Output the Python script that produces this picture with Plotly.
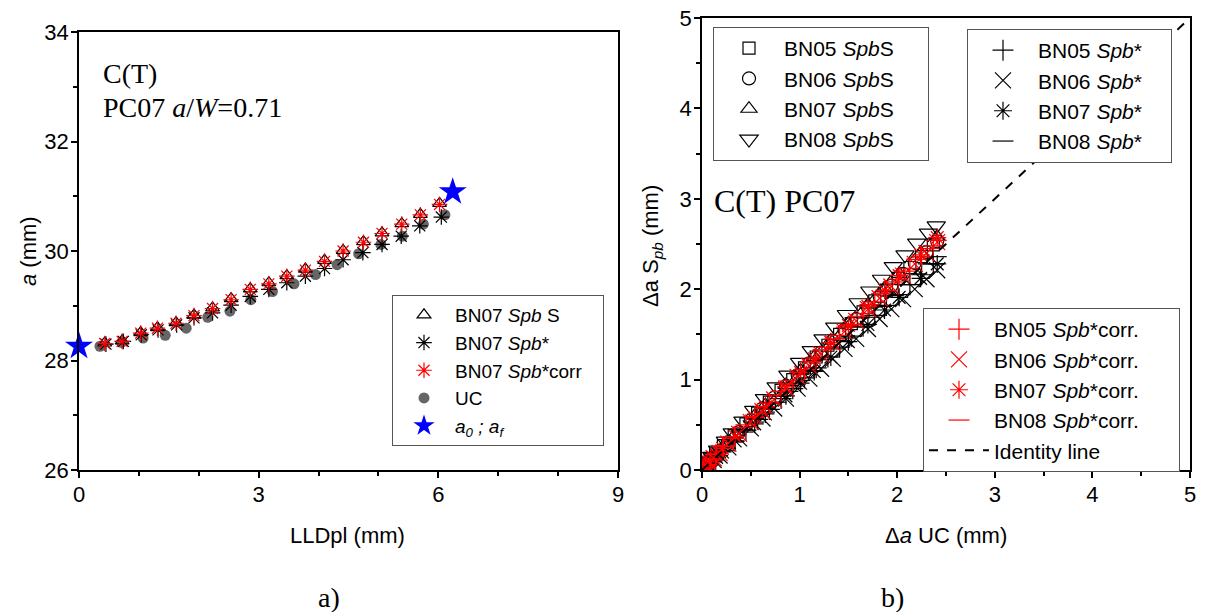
import plotly.graph_objects as go

# ---------------- data: panel a) ----------------
lld_spb = [0.43, 0.72, 1.03, 1.31, 1.62, 1.92, 2.23, 2.54, 2.86, 3.17, 3.47, 3.78, 4.10, 4.41, 4.75, 5.06, 5.39, 5.70, 6.02]
a_spbS = [28.32, 28.36, 28.51, 28.60, 28.69, 28.83, 28.96, 29.13, 29.31, 29.42, 29.55, 29.67, 29.83, 30.01, 30.17, 30.33, 30.50, 30.67, 30.87]
lld_star = [0.45, 0.74, 1.04, 1.32, 1.63, 1.92, 2.23, 2.54, 2.86, 3.17, 3.47, 3.78, 4.10, 4.41, 4.74, 5.06, 5.38, 5.69, 6.05]
a_star = [28.30, 28.35, 28.47, 28.56, 28.65, 28.78, 28.87, 29.01, 29.17, 29.30, 29.42, 29.54, 29.68, 29.84, 29.97, 30.12, 30.27, 30.46, 30.62]
a_corr = [28.31, 28.35, 28.50, 28.59, 28.68, 28.82, 28.95, 29.11, 29.30, 29.40, 29.54, 29.65, 29.81, 30.00, 30.16, 30.32, 30.49, 30.66, 30.85]
lld_uc = [0.35, 0.71, 1.07, 1.44, 1.79, 2.15, 2.52, 2.87, 3.23, 3.59, 3.95, 4.31, 4.67, 5.04, 5.40, 5.75, 6.11]
a_uc = [28.26, 28.33, 28.41, 28.46, 28.59, 28.79, 28.90, 29.11, 29.26, 29.40, 29.57, 29.75, 29.95, 30.12, 30.27, 30.49, 30.66]
lld_af = [0.0, 6.24]
a_af = [28.26, 31.08]

# ---------------- data: panel b) ----------------
uc05 = [0.00, 0.02, 0.05, 0.09, 0.14, 0.22, 0.33, 0.45, 0.57, 0.69, 0.81, 0.93, 1.05, 1.17, 1.29, 1.41, 1.53, 1.65, 1.77, 1.89, 2.01, 2.13, 2.25, 2.37]
s05_S = [0.00, 0.03, 0.07, 0.12, 0.18, 0.27, 0.38, 0.51, 0.63, 0.75, 0.88, 1.00, 1.13, 1.25, 1.38, 1.50, 1.62, 1.75, 1.87, 1.99, 2.12, 2.24, 2.36, 2.49]
s05_star = [0.00, 0.02, 0.05, 0.09, 0.14, 0.22, 0.32, 0.44, 0.56, 0.67, 0.79, 0.90, 1.02, 1.13, 1.25, 1.36, 1.48, 1.59, 1.71, 1.82, 1.94, 2.05, 2.16, 2.28]
s05_corr = [0.00, 0.03, 0.06, 0.11, 0.17, 0.26, 0.37, 0.50, 0.62, 0.74, 0.87, 0.99, 1.11, 1.24, 1.36, 1.49, 1.61, 1.73, 1.86, 1.98, 2.11, 2.23, 2.36, 2.48]

uc06 = [0.00, 0.03, 0.07, 0.12, 0.18, 0.27, 0.38, 0.50, 0.62, 0.74, 0.86, 0.98, 1.10, 1.22, 1.34, 1.46, 1.58, 1.70, 1.82, 1.94, 2.06, 2.18, 2.30, 2.41]
s06_S = [0.00, 0.04, 0.09, 0.14, 0.21, 0.31, 0.42, 0.55, 0.68, 0.80, 0.93, 1.05, 1.18, 1.30, 1.43, 1.55, 1.67, 1.80, 1.92, 2.04, 2.17, 2.29, 2.41, 2.53]
s06_star = [0.00, 0.03, 0.06, 0.11, 0.16, 0.25, 0.35, 0.46, 0.57, 0.68, 0.79, 0.90, 1.01, 1.12, 1.23, 1.34, 1.45, 1.56, 1.67, 1.78, 1.89, 2.00, 2.11, 2.21]
s06_corr = [0.00, 0.04, 0.08, 0.13, 0.19, 0.29, 0.40, 0.53, 0.65, 0.78, 0.90, 1.03, 1.15, 1.28, 1.40, 1.53, 1.65, 1.78, 1.90, 2.03, 2.15, 2.28, 2.40, 2.52]

uc07 = [0.00, 0.04, 0.08, 0.15, 0.21, 0.34, 0.54, 0.65, 0.86, 1.01, 1.15, 1.32, 1.50, 1.70, 1.87, 2.02, 2.24, 2.41]
s07_S = [0.00, 0.05, 0.10, 0.18, 0.25, 0.39, 0.60, 0.72, 0.94, 1.10, 1.25, 1.43, 1.62, 1.83, 2.01, 2.17, 2.40, 2.58]
s07_star = [0.00, 0.04, 0.08, 0.14, 0.20, 0.32, 0.51, 0.62, 0.82, 0.96, 1.09, 1.25, 1.42, 1.61, 1.77, 1.91, 2.12, 2.28]
s07_corr = [0.00, 0.05, 0.09, 0.17, 0.24, 0.37, 0.58, 0.70, 0.92, 1.08, 1.23, 1.41, 1.60, 1.81, 1.99, 2.15, 2.38, 2.57]

uc08 = [0.00, 0.01, 0.04, 0.10, 0.16, 0.24, 0.31, 0.42, 0.53, 0.64, 0.76, 0.88, 1.00, 1.12, 1.24, 1.36, 1.48, 1.60, 1.72, 1.84, 1.96, 2.08, 2.20, 2.32, 2.40]
s08_S = [0.00, 0.02, 0.07, 0.15, 0.22, 0.32, 0.41, 0.54, 0.66, 0.79, 0.92, 1.05, 1.19, 1.32, 1.45, 1.58, 1.72, 1.85, 1.98, 2.11, 2.25, 2.38, 2.51, 2.62, 2.70]
s08_star = [0.00, 0.01, 0.04, 0.10, 0.16, 0.24, 0.31, 0.42, 0.53, 0.64, 0.75, 0.87, 0.99, 1.10, 1.22, 1.34, 1.46, 1.58, 1.69, 1.81, 1.93, 2.05, 2.17, 2.28, 2.36]
s08_corr = [0.00, 0.02, 0.05, 0.12, 0.18, 0.27, 0.35, 0.47, 0.59, 0.70, 0.83, 0.95, 1.08, 1.20, 1.33, 1.45, 1.58, 1.70, 1.83, 1.95, 2.08, 2.20, 2.33, 2.45, 2.54]

identity = [0, 5]

# ---------------- layout geometry (pixels) ----------------
W, H = 1205, 612
def dx(a, b):
    return [a / W, b / W]
def dy(top, bot):
    return [1 - bot / H, 1 - top / H]

SANS = "Liberation Sans, Arial, sans-serif"
SERIF = "Liberation Serif, Times New Roman, serif"
RED = "#ff0000"
SP = "&nbsp;"

fig = go.Figure()

def sc(x, y, name, symbol, color, size, legend, rank, xa="x", ya="y", lw=1.2, fill=None, clip=True):
    fig.add_trace(go.Scatter(
        x=x, y=y, mode="markers", name=name, xaxis=xa, yaxis=ya,
        legend=legend, legendrank=rank, cliponaxis=clip,
        marker=dict(symbol=symbol, size=size, color=fill if fill else color,
                    line=dict(color=color, width=lw)),
    ))

# panel a
sc(lld_uc, a_uc, "UC", "circle", "#666666", 11, "legend", 4, lw=0)
sc(lld_spb, a_spbS, "BN07 <i>Spb</i> S", "triangle-up-open", "black", 12, "legend", 1)
sc(lld_star, a_star, "BN07 <i>Spb</i>*", "asterisk-open", "black", 13, "legend", 2)
sc(lld_spb, a_corr, "BN07 <i>Spb</i>*corr" + SP * 3, "asterisk-open", RED, 13, "legend", 3)
sc(lld_af, a_af, "<i>a<sub>0</sub> ; a<sub>f</sub></i>", "star", "blue", 21, "legend", 5, lw=0, clip=False)

# panel b
sc(uc05, s05_S, "BN05 <i>Spb</i>S" + SP * 5, "square-open", "black", 12, "legend2", 1, "x2", "y2")
sc(uc06, s06_S, "BN06 <i>Spb</i>S", "circle-open", "black", 13, "legend2", 2, "x2", "y2")
sc(uc07, s07_S, "BN07 <i>Spb</i>S", "triangle-up-open", "black", 14, "legend2", 3, "x2", "y2")
sc(uc08, s08_S, "BN08 <i>Spb</i>S", "triangle-down-open", "black", 16, "legend2", 4, "x2", "y2")
sc(uc05, s05_star, "BN05 <i>Spb</i>*" + SP * 4, "cross-thin-open", "black", 15, "legend3", 1, "x2", "y2")
sc(uc06, s06_star, "BN06 <i>Spb</i>*", "x-thin-open", "black", 16, "legend3", 2, "x2", "y2")
sc(uc07, s07_star, "BN07 <i>Spb</i>*", "asterisk-open", "black", 15, "legend3", 3, "x2", "y2")
sc(uc08, s08_star, "BN08 <i>Spb</i>*", "line-ew-open", "black", 15, "legend3", 4, "x2", "y2")
sc(uc05, s05_corr, "BN05 <i>Spb</i>*corr." + SP * 6, "cross-thin-open", RED, 15, "legend4", 1, "x2", "y2")
sc(uc06, s06_corr, "BN06 <i>Spb</i>*corr.", "x-thin-open", RED, 16, "legend4", 2, "x2", "y2")
sc(uc07, s07_corr, "BN07 <i>Spb</i>*corr.", "asterisk-open", RED, 15, "legend4", 3, "x2", "y2")
sc(uc08, s08_corr, "BN08 <i>Spb</i>*corr.", "line-ew-open", RED, 15, "legend4", 4, "x2", "y2")
fig.add_trace(go.Scatter(x=identity, y=identity, mode="lines", name="Identity line",
                         xaxis="x2", yaxis="y2", legend="legend4", legendrank=5,
                         line=dict(color="black", width=2, dash="dash")))

axcommon = dict(showline=True, linecolor="black", linewidth=1.5, mirror=True,
                ticks="outside", ticklen=6, tickwidth=1.5, tickcolor="black",
                showgrid=False, zeroline=False, automargin=False,
                ticklabelstandoff=-2,
                tickfont=dict(family=SANS, size=22, color="black"))

def legend_box(x, y, size, iw):
    return dict(x=x / W, y=1 - y / H, xanchor="left", yanchor="top",
                bgcolor="white", bordercolor="#555555", borderwidth=1,
                font=dict(family=SANS, size=size, color="black"),
                itemwidth=iw, tracegroupgap=0)

fig.update_layout(
    width=W, height=H, margin=dict(l=0, r=0, t=0, b=0, autoexpand=False),
    paper_bgcolor="white", plot_bgcolor="white",
    xaxis=dict(axcommon, domain=dx(79, 618), range=[0, 9], dtick=3, anchor="y",
               minor=dict(ticks="outside", ticklen=4, dtick=1, tickcolor="black")),
    yaxis=dict(axcommon, domain=dy(32, 470), range=[26, 34], dtick=2, anchor="x",
               minor=dict(ticks="outside", ticklen=4, dtick=1, tickcolor="black")),
    xaxis2=dict(axcommon, domain=dx(702, 1190), range=[0, 5], dtick=1, anchor="y2",
                minor=dict(ticks="outside", ticklen=4, dtick=0.5, tickcolor="black")),
    yaxis2=dict(axcommon, domain=dy(18, 470), range=[0, 5], dtick=1, anchor="x2",
                minor=dict(ticks="outside", ticklen=4, dtick=0.5, tickcolor="black")),
    legend=legend_box(392, 295, 19, 52),
    legend2=legend_box(713, 27, 21, 60),
    legend3=legend_box(967, 29, 21, 60),
    legend4=legend_box(923, 308, 21, 60),
    showlegend=True,
)

def note(text, x, y, family, size, xanchor="left", angle=0):
    fig.add_annotation(xref="paper", yref="paper", xanchor=xanchor, yanchor="middle",
                       showarrow=False, text=text, x=x / W, y=1 - y / H, textangle=angle,
                       font=dict(family=family, size=size, color="black"))

note("C(T)", 101, 73, SERIF, 28)
note("PC07 <i>a</i>/<i>W</i>=0.71", 101, 107, SERIF, 28)
note("C(T) PC07", 712, 201, SERIF, 32)
note("a)", 329, 597, SERIF, 28, "center")
note("b)", 892, 597, SERIF, 28, "center")
# axis titles
note("LLDpl (mm)", 348, 535, SANS, 22, "center")
note("<i>a</i> (mm)", 28, 251, SANS, 22, "center", -90)
note("Δ<i>a</i> UC (mm)", 946, 535, SANS, 22, "center")
note("Δa S<sub><i>pb</i></sub> (mm)", 652, 246, SANS, 22, "center", -90)

fig.write_html("out.html")
